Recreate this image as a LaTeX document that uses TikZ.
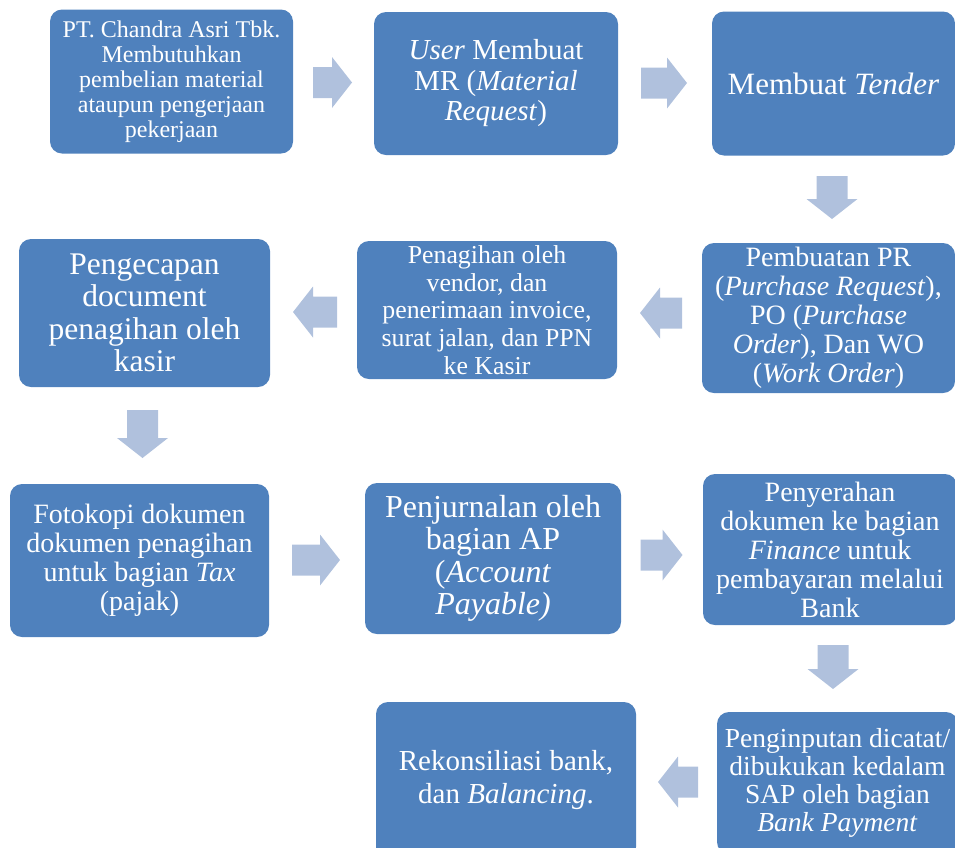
\documentclass[tikz,border=0pt]{standalone}
\usepackage{fontspec}
\setmainfont{Liberation Serif}
\definecolor{boxc}{HTML}{4F81BD}
\definecolor{arrc}{HTML}{B0C1DD}
\newcommand\blockarr[4]{%
  \fill[arrc, shift={(#1,#2)}, rotate=#3]
    (-#4/2,-15.5) -- (#4/2-20,-15.5) -- (#4/2-20,-25.5) -- (#4/2,0) --
    (#4/2-20,25.5) -- (#4/2-20,15.5) -- (-#4/2,15.5) -- cycle;}
\tikzset{
  stepbox/.style={fill=boxc, rounded corners=12pt, inner sep=0pt,
    text=white, align=center, anchor=center},
}
\begin{document}
\begin{tikzpicture}[x=1pt,y=1pt]
\useasboundingbox (0,0) rectangle (955,-847);
\clip (0,0) rectangle (955,-847);
% boxes
\node[stepbox, minimum width=243pt, minimum height=144pt,
  font=\fontsize{24}{25}\selectfont] (b1) at (171.5,-81.5)
  {PT. Chandra Asri Tbk.\\ Membutuhkan\\ pembelian material\\ ataupun pengerjaan\\ pekerjaan};
\node[stepbox, minimum width=244pt, minimum height=143pt,
  font=\fontsize{29}{30.5}\selectfont] (b2) at (496,-83.5)
  {\textit{User} Membuat\\ MR (\textit{Material}\\ \textit{Request})};
\node[stepbox, minimum width=243pt, minimum height=144pt,
  font=\fontsize{31}{33}\selectfont] (b3) at (833.5,-83.5)
  {Membuat \textit{Tender}};
\node[stepbox, minimum width=253pt, minimum height=150pt,
  font=\fontsize{28}{29}\selectfont] (b4) at (828.5,-318)
  {Pembuatan PR\\ (\textit{Purchase Request}),\\ PO (\textit{Purchase}\\ \textit{Order}), Dan WO\\ (\textit{Work Order})};
\node[stepbox, minimum width=260pt, minimum height=138pt,
  font=\fontsize{25.8}{27.75}\selectfont] (b5) at (487,-310)
  {Penagihan oleh\\ vendor, dan\\ penerimaan invoice,\\ surat jalan, dan PPN\\ ke Kasir};
\node[stepbox, minimum width=251pt, minimum height=148pt,
  font=\fontsize{31.5}{32.5}\selectfont] (b6) at (144.5,-313)
  {Pengecapan\\ document\\ penagihan oleh\\ kasir};
\node[stepbox, minimum width=259pt, minimum height=153pt,
  font=\fontsize{28}{29}\selectfont] (b7) at (139.5,-560.5)
  {Fotokopi dokumen\\ dokumen penagihan\\ untuk bagian \textit{Tax}\\ (pajak)};
\node[stepbox, minimum width=256pt, minimum height=151pt,
  font=\fontsize{32}{32.5}\selectfont] (b8) at (493,-558.5)
  {Penjurnalan oleh\\ bagian AP\\ (\textit{Account}\\ \textit{Payable)}};
\node[stepbox, minimum width=254pt, minimum height=151pt,
  font=\fontsize{28}{29}\selectfont] (b9) at (830,-549.5)
  {Penyerahan\\ dokumen ke bagian\\ \textit{Finance} untuk\\ pembayaran melalui\\ Bank};
\node[stepbox, minimum width=241pt, minimum height=142pt,
  font=\fontsize{27.5}{28}\selectfont] (b10) at (837.5,-783)
  {Penginputan dicatat/\\ dibukukan kedalam\\ SAP oleh bagian\\ \textit{Bank Payment}};
\node[stepbox, minimum width=260pt, minimum height=157pt,
  font=\fontsize{29}{33}\selectfont] (b11) at (506,-780.5)
  {Rekonsiliasi bank,\\ dan \textit{Balancing}.};
% block arrows
\blockarr{332.5}{-82.5}{0}{39}
\blockarr{664}{-83}{0}{46}
\blockarr{832}{-197.5}{-90}{43}
\blockarr{661}{-313}{180}{42}
\blockarr{315}{-312}{180}{44}
\blockarr{142.5}{-434}{-90}{48}
\blockarr{316}{-560}{0}{48}
\blockarr{661.5}{-555}{0}{42}
\blockarr{833}{-667}{-90}{44}
\blockarr{678}{-782}{180}{40}
\end{tikzpicture}
\end{document}
